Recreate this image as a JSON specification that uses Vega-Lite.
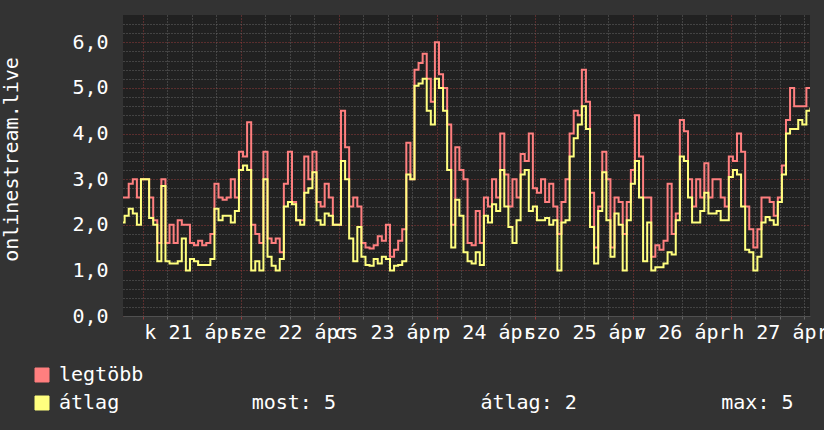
{
  "$schema": "https://vega.github.io/schema/vega-lite/v6.json",
  "width": 687,
  "height": 301,
  "autosize": {"type": "none"},
  "padding": {"left": 123, "top": 15, "right": 14, "bottom": 114},
  "background": "#333333",
  "config": {
    "view": {"fill": "#212121", "stroke": null},
    "font": "DejaVu Sans Mono",
    "axis": {"labelFont": "DejaVu Sans Mono", "titleFont": "DejaVu Sans Mono"},
    "legend": {"labelFont": "DejaVu Sans Mono"}
  },
  "data": {"values": [
    {"t":"2026-04-20T19:00Z","max":2.6,"avg":2.05},
    {"t":"2026-04-20T20:00Z","max":2.6,"avg":2.2},
    {"t":"2026-04-20T21:00Z","max":2.9,"avg":2.35},
    {"t":"2026-04-20T22:00Z","max":3.0,"avg":2.25},
    {"t":"2026-04-20T23:00Z","max":2.6,"avg":2.0},
    {"t":"2026-04-21T00:00Z","max":3.0,"avg":3.0},
    {"t":"2026-04-21T01:00Z","max":3.0,"avg":3.0},
    {"t":"2026-04-21T02:00Z","max":2.6,"avg":2.15},
    {"t":"2026-04-21T03:00Z","max":2.1,"avg":2.0},
    {"t":"2026-04-21T04:00Z","max":1.6,"avg":1.2},
    {"t":"2026-04-21T05:00Z","max":3.0,"avg":2.85},
    {"t":"2026-04-21T06:00Z","max":1.6,"avg":1.2},
    {"t":"2026-04-21T07:00Z","max":2.0,"avg":1.15},
    {"t":"2026-04-21T08:00Z","max":1.6,"avg":1.15},
    {"t":"2026-04-21T09:00Z","max":2.1,"avg":1.2},
    {"t":"2026-04-21T10:00Z","max":2.0,"avg":1.7},
    {"t":"2026-04-21T11:00Z","max":2.0,"avg":1.0},
    {"t":"2026-04-21T12:00Z","max":1.6,"avg":1.25},
    {"t":"2026-04-21T13:00Z","max":1.55,"avg":1.2},
    {"t":"2026-04-21T14:00Z","max":1.65,"avg":1.12},
    {"t":"2026-04-21T15:00Z","max":1.55,"avg":1.12},
    {"t":"2026-04-21T16:00Z","max":1.6,"avg":1.12},
    {"t":"2026-04-21T17:00Z","max":1.8,"avg":1.25},
    {"t":"2026-04-21T18:00Z","max":2.9,"avg":2.35},
    {"t":"2026-04-21T19:00Z","max":2.6,"avg":2.1},
    {"t":"2026-04-21T20:00Z","max":2.55,"avg":2.2},
    {"t":"2026-04-21T21:00Z","max":2.6,"avg":2.2},
    {"t":"2026-04-21T22:00Z","max":3.0,"avg":2.05},
    {"t":"2026-04-21T23:00Z","max":2.6,"avg":2.3},
    {"t":"2026-04-22T00:00Z","max":3.6,"avg":3.2},
    {"t":"2026-04-22T01:00Z","max":3.5,"avg":3.3},
    {"t":"2026-04-22T02:00Z","max":4.25,"avg":3.2},
    {"t":"2026-04-22T03:00Z","max":2.0,"avg":1.0},
    {"t":"2026-04-22T04:00Z","max":1.8,"avg":1.2},
    {"t":"2026-04-22T05:00Z","max":1.6,"avg":1.0},
    {"t":"2026-04-22T06:00Z","max":3.6,"avg":3.0},
    {"t":"2026-04-22T07:00Z","max":1.7,"avg":1.3},
    {"t":"2026-04-22T08:00Z","max":1.6,"avg":1.1},
    {"t":"2026-04-22T09:00Z","max":1.7,"avg":1.0},
    {"t":"2026-04-22T10:00Z","max":1.4,"avg":1.25},
    {"t":"2026-04-22T11:00Z","max":2.9,"avg":2.4},
    {"t":"2026-04-22T12:00Z","max":3.6,"avg":2.5},
    {"t":"2026-04-22T13:00Z","max":2.5,"avg":2.45},
    {"t":"2026-04-22T14:00Z","max":2.1,"avg":2.1},
    {"t":"2026-04-22T15:00Z","max":2.1,"avg":2.0},
    {"t":"2026-04-22T16:00Z","max":3.5,"avg":2.7},
    {"t":"2026-04-22T17:00Z","max":3.0,"avg":2.8},
    {"t":"2026-04-22T18:00Z","max":3.6,"avg":3.15},
    {"t":"2026-04-22T19:00Z","max":2.5,"avg":2.1},
    {"t":"2026-04-22T20:00Z","max":2.4,"avg":2.0},
    {"t":"2026-04-22T21:00Z","max":2.9,"avg":2.25},
    {"t":"2026-04-22T22:00Z","max":2.6,"avg":2.2},
    {"t":"2026-04-22T23:00Z","max":2.0,"avg":2.0},
    {"t":"2026-04-23T00:00Z","max":2.0,"avg":2.0},
    {"t":"2026-04-23T01:00Z","max":4.5,"avg":3.4},
    {"t":"2026-04-23T02:00Z","max":3.7,"avg":3.0},
    {"t":"2026-04-23T03:00Z","max":2.4,"avg":1.7},
    {"t":"2026-04-23T04:00Z","max":2.6,"avg":1.2},
    {"t":"2026-04-23T05:00Z","max":2.4,"avg":1.95},
    {"t":"2026-04-23T06:00Z","max":1.6,"avg":1.3},
    {"t":"2026-04-23T07:00Z","max":1.5,"avg":1.12},
    {"t":"2026-04-23T08:00Z","max":1.48,"avg":1.1},
    {"t":"2026-04-23T09:00Z","max":1.55,"avg":1.25},
    {"t":"2026-04-23T10:00Z","max":1.75,"avg":1.15},
    {"t":"2026-04-23T11:00Z","max":1.65,"avg":1.3},
    {"t":"2026-04-23T12:00Z","max":2.0,"avg":1.25},
    {"t":"2026-04-23T13:00Z","max":1.3,"avg":1.0},
    {"t":"2026-04-23T14:00Z","max":1.45,"avg":1.1},
    {"t":"2026-04-23T15:00Z","max":1.65,"avg":1.12},
    {"t":"2026-04-23T16:00Z","max":1.9,"avg":1.2},
    {"t":"2026-04-23T17:00Z","max":3.8,"avg":3.1},
    {"t":"2026-04-23T18:00Z","max":3.0,"avg":3.0},
    {"t":"2026-04-23T19:00Z","max":5.4,"avg":5.05},
    {"t":"2026-04-23T20:00Z","max":5.55,"avg":5.1},
    {"t":"2026-04-23T21:00Z","max":5.75,"avg":5.2},
    {"t":"2026-04-23T22:00Z","max":5.2,"avg":4.5},
    {"t":"2026-04-23T23:00Z","max":4.7,"avg":4.2},
    {"t":"2026-04-24T00:00Z","max":6.0,"avg":5.2},
    {"t":"2026-04-24T01:00Z","max":5.3,"avg":5.0},
    {"t":"2026-04-24T02:00Z","max":5.0,"avg":4.5},
    {"t":"2026-04-24T03:00Z","max":4.2,"avg":3.2},
    {"t":"2026-04-24T04:00Z","max":2.0,"avg":1.5},
    {"t":"2026-04-24T05:00Z","max":3.7,"avg":2.55},
    {"t":"2026-04-24T06:00Z","max":3.2,"avg":2.2},
    {"t":"2026-04-24T07:00Z","max":3.0,"avg":1.4},
    {"t":"2026-04-24T08:00Z","max":1.6,"avg":1.2},
    {"t":"2026-04-24T09:00Z","max":1.55,"avg":1.15},
    {"t":"2026-04-24T10:00Z","max":2.3,"avg":1.4},
    {"t":"2026-04-24T11:00Z","max":1.6,"avg":1.12},
    {"t":"2026-04-24T12:00Z","max":2.6,"avg":2.2},
    {"t":"2026-04-24T13:00Z","max":2.4,"avg":2.05},
    {"t":"2026-04-24T14:00Z","max":3.0,"avg":2.45},
    {"t":"2026-04-24T15:00Z","max":2.6,"avg":2.3},
    {"t":"2026-04-24T16:00Z","max":4.0,"avg":3.2},
    {"t":"2026-04-24T17:00Z","max":3.1,"avg":2.4},
    {"t":"2026-04-24T18:00Z","max":2.4,"avg":1.95},
    {"t":"2026-04-24T19:00Z","max":3.0,"avg":1.6},
    {"t":"2026-04-24T20:00Z","max":2.6,"avg":2.1},
    {"t":"2026-04-24T21:00Z","max":3.55,"avg":3.1},
    {"t":"2026-04-24T22:00Z","max":3.4,"avg":3.2},
    {"t":"2026-04-24T23:00Z","max":4.0,"avg":2.3},
    {"t":"2026-04-25T00:00Z","max":2.8,"avg":2.4},
    {"t":"2026-04-25T01:00Z","max":2.7,"avg":2.1},
    {"t":"2026-04-25T02:00Z","max":3.0,"avg":2.1},
    {"t":"2026-04-25T03:00Z","max":2.5,"avg":2.15},
    {"t":"2026-04-25T04:00Z","max":2.9,"avg":2.0},
    {"t":"2026-04-25T05:00Z","max":2.4,"avg":2.1},
    {"t":"2026-04-25T06:00Z","max":1.8,"avg":1.0},
    {"t":"2026-04-25T07:00Z","max":2.5,"avg":2.05},
    {"t":"2026-04-25T08:00Z","max":3.0,"avg":2.1},
    {"t":"2026-04-25T09:00Z","max":4.0,"avg":3.5},
    {"t":"2026-04-25T10:00Z","max":4.5,"avg":3.9},
    {"t":"2026-04-25T11:00Z","max":4.4,"avg":4.2},
    {"t":"2026-04-25T12:00Z","max":5.4,"avg":4.6},
    {"t":"2026-04-25T13:00Z","max":4.7,"avg":4.1},
    {"t":"2026-04-25T14:00Z","max":2.7,"avg":1.95},
    {"t":"2026-04-25T15:00Z","max":1.5,"avg":1.15},
    {"t":"2026-04-25T16:00Z","max":2.4,"avg":2.3},
    {"t":"2026-04-25T17:00Z","max":3.6,"avg":3.15},
    {"t":"2026-04-25T18:00Z","max":3.0,"avg":2.1},
    {"t":"2026-04-25T19:00Z","max":1.5,"avg":1.3},
    {"t":"2026-04-25T20:00Z","max":2.6,"avg":2.25},
    {"t":"2026-04-25T21:00Z","max":2.5,"avg":2.0},
    {"t":"2026-04-25T22:00Z","max":1.8,"avg":1.0},
    {"t":"2026-04-25T23:00Z","max":2.5,"avg":2.1},
    {"t":"2026-04-26T00:00Z","max":3.2,"avg":2.9},
    {"t":"2026-04-26T01:00Z","max":4.4,"avg":3.4},
    {"t":"2026-04-26T02:00Z","max":3.5,"avg":2.6},
    {"t":"2026-04-26T03:00Z","max":2.6,"avg":1.2},
    {"t":"2026-04-26T04:00Z","max":2.6,"avg":2.05},
    {"t":"2026-04-26T05:00Z","max":1.3,"avg":1.0},
    {"t":"2026-04-26T06:00Z","max":1.55,"avg":1.07},
    {"t":"2026-04-26T07:00Z","max":1.45,"avg":1.07},
    {"t":"2026-04-26T08:00Z","max":1.65,"avg":1.15},
    {"t":"2026-04-26T09:00Z","max":2.9,"avg":1.4},
    {"t":"2026-04-26T10:00Z","max":1.8,"avg":1.35},
    {"t":"2026-04-26T11:00Z","max":2.25,"avg":2.1},
    {"t":"2026-04-26T12:00Z","max":4.3,"avg":3.5},
    {"t":"2026-04-26T13:00Z","max":4.05,"avg":3.4},
    {"t":"2026-04-26T14:00Z","max":3.0,"avg":2.6},
    {"t":"2026-04-26T15:00Z","max":2.4,"avg":2.05},
    {"t":"2026-04-26T16:00Z","max":3.0,"avg":2.05},
    {"t":"2026-04-26T17:00Z","max":2.6,"avg":2.3},
    {"t":"2026-04-26T18:00Z","max":3.35,"avg":2.7},
    {"t":"2026-04-26T19:00Z","max":2.6,"avg":2.25},
    {"t":"2026-04-26T20:00Z","max":3.0,"avg":2.25},
    {"t":"2026-04-26T21:00Z","max":3.0,"avg":2.3},
    {"t":"2026-04-26T22:00Z","max":2.6,"avg":2.1},
    {"t":"2026-04-26T23:00Z","max":2.4,"avg":2.1},
    {"t":"2026-04-27T00:00Z","max":3.5,"avg":3.05},
    {"t":"2026-04-27T01:00Z","max":3.4,"avg":3.2},
    {"t":"2026-04-27T02:00Z","max":4.0,"avg":3.1},
    {"t":"2026-04-27T03:00Z","max":3.6,"avg":2.4},
    {"t":"2026-04-27T04:00Z","max":2.4,"avg":1.45},
    {"t":"2026-04-27T05:00Z","max":1.9,"avg":1.4},
    {"t":"2026-04-27T06:00Z","max":1.5,"avg":1.0},
    {"t":"2026-04-27T07:00Z","max":1.9,"avg":1.3},
    {"t":"2026-04-27T08:00Z","max":2.6,"avg":2.05},
    {"t":"2026-04-27T09:00Z","max":2.6,"avg":2.17},
    {"t":"2026-04-27T10:00Z","max":2.5,"avg":2.1},
    {"t":"2026-04-27T11:00Z","max":2.2,"avg":2.0},
    {"t":"2026-04-27T12:00Z","max":2.6,"avg":2.5},
    {"t":"2026-04-27T13:00Z","max":3.3,"avg":3.1},
    {"t":"2026-04-27T14:00Z","max":4.3,"avg":4.0},
    {"t":"2026-04-27T15:00Z","max":5.0,"avg":4.1},
    {"t":"2026-04-27T16:00Z","max":4.6,"avg":4.1},
    {"t":"2026-04-27T17:00Z","max":4.6,"avg":4.3},
    {"t":"2026-04-27T18:00Z","max":4.6,"avg":4.2},
    {"t":"2026-04-27T19:00Z","max":5.0,"avg":4.5},
    {"t":"2026-04-27T20:00Z","max":5.0,"avg":4.55}
  ]},
  "encoding": {
    "x": {
      "field": "t",
      "type": "temporal",
      "scale": {"type": "utc", "domain": [1776711960000, 1777317780000]},
      "axis": {
        "title": null,
        "values": [1776729600000,1776751200000,1776772800000,1776794400000,1776816000000,1776837600000,1776859200000,1776880800000,1776902400000,1776924000000,1776945600000,1776967200000,1776988800000,1777010400000,1777032000000,1777053600000,1777075200000,1777096800000,1777118400000,1777140000000,1777161600000,1777183200000,1777204800000,1777226400000,1777248000000,1777269600000,1777291200000,1777312800000],
        "grid": true,
        "gridColor": {"condition": {"test": "utchours(datum.value) === 0", "value": "#943c3c"}, "value": "#666666"},
        "gridDash": [1, 2],
        "gridWidth": 1,
        "ticks": true,
        "tickSize": 3,
        "tickColor": {"condition": {"test": "utchours(datum.value) === 0", "value": "#943c3c"}, "value": "#666666"},
        "domain": true,
        "domainColor": "#505050",
        "labelExpr": "utchours(datum.value) === 0 ? ['v','h','k','sze','cs','p','szo'][utcday(datum.value)] + ' ' + utcFormat(datum.value, '%d') + ' ápr' : ''",
        "labelOffset": 49,
        "labelAlign": "center",
        "labelBaseline": "top",
        "labelPadding": 3,
        "labelFlush": false,
        "labelOverlap": false,
        "labelBound": false,
        "labelColor": "#ffffff",
        "labelFontSize": 20,
        "labelLimit": 400
      }
    }
  },
  "layer": [
    {
      "mark": {"type": "line", "interpolate": "step", "strokeWidth": 2, "clip": true},
      "encoding": {
        "y": {
          "field": "max",
          "type": "quantitative",
          "scale": {"domain": [0, 6.6], "nice": false, "zero": true},
          "axis": {
            "title": "onlinestream.live",
            "titleColor": "#ffffff",
            "titleFontSize": 20,
            "titleFontWeight": "normal",
            "titlePadding": 50,
            "titleY": 144,
            "values": [0,0.2,0.4,0.6,0.8,1,1.2,1.4,1.6,1.8,2,2.2,2.4,2.6,2.8,3,3.2,3.4,3.6,3.8,4,4.2,4.4,4.6,4.8,5,5.2,5.4,5.6,5.8,6,6.2,6.4],
            "grid": true,
            "gridColor": {"condition": {"test": "abs(datum.value - round(datum.value)) < 0.01", "value": "#943c3c"}, "value": "#666666"},
            "gridDash": [1, 2],
            "gridWidth": 1,
            "ticks": false,
            "domain": false,
            "labelExpr": "abs(datum.value - round(datum.value)) < 0.01 ? replace(format(datum.value, '.1f'), '.', ',') : ''",
            "labelColor": "#ffffff",
            "labelFontSize": 20,
            "labelPadding": 15,
            "labelOverlap": false
          }
        },
        "color": {
          "datum": "legtöbb",
          "type": "nominal",
          "scale": {"domain": ["legtöbb", "átlag"], "range": ["#ff7f7f", "#ffff7f"]},
          "legend": {
            "title": null,
            "orient": "none",
            "legendX": -91,
            "legendY": 350,
            "direction": "vertical",
            "padding": 0,
            "symbolType": "square",
            "symbolSize": 196,
            "symbolStrokeColor": "#000000",
            "symbolStrokeWidth": 1,
            "labelFontSize": 20,
            "labelColor": "#ffffff",
            "labelOffset": 7,
            "rowPadding": 8,
            "labelLimit": 1000,
            "labelExpr": "datum.label === 'átlag' ? 'átlag\u00a0\u00a0\u00a0\u00a0\u00a0\u00a0\u00a0\u00a0\u00a0\u00a0\u00a0most: 5\u00a0\u00a0\u00a0\u00a0\u00a0\u00a0\u00a0\u00a0\u00a0\u00a0\u00a0\u00a0átlag: 2\u00a0\u00a0\u00a0\u00a0\u00a0\u00a0\u00a0\u00a0\u00a0\u00a0\u00a0\u00a0max: 5' : datum.label",
            "encode": {
              "symbols": {
                "update": {
                  "fill": {"scale": "color", "field": "value"},
                  "stroke": {"value": "#000000"},
                  "strokeWidth": {"value": 1},
                  "opacity": {"value": 1}
                }
              }
            }
          }
        }
      }
    },
    {
      "mark": {"type": "line", "interpolate": "step", "strokeWidth": 2, "clip": true},
      "encoding": {
        "y": {
          "field": "avg",
          "type": "quantitative",
          "scale": {"domain": [0, 6.6], "nice": false, "zero": true},
          "axis": {
            "title": "onlinestream.live",
            "titleColor": "#ffffff",
            "titleFontSize": 20,
            "titleFontWeight": "normal",
            "titlePadding": 50,
            "titleY": 144,
            "values": [0,0.2,0.4,0.6,0.8,1,1.2,1.4,1.6,1.8,2,2.2,2.4,2.6,2.8,3,3.2,3.4,3.6,3.8,4,4.2,4.4,4.6,4.8,5,5.2,5.4,5.6,5.8,6,6.2,6.4],
            "grid": true,
            "gridColor": {"condition": {"test": "abs(datum.value - round(datum.value)) < 0.01", "value": "#943c3c"}, "value": "#666666"},
            "gridDash": [1, 2],
            "gridWidth": 1,
            "ticks": false,
            "domain": false,
            "labelExpr": "abs(datum.value - round(datum.value)) < 0.01 ? replace(format(datum.value, '.1f'), '.', ',') : ''",
            "labelColor": "#ffffff",
            "labelFontSize": 20,
            "labelPadding": 15,
            "labelOverlap": false
          }
        },
        "color": {"datum": "átlag", "type": "nominal"}
      }
    }
  ]
}
